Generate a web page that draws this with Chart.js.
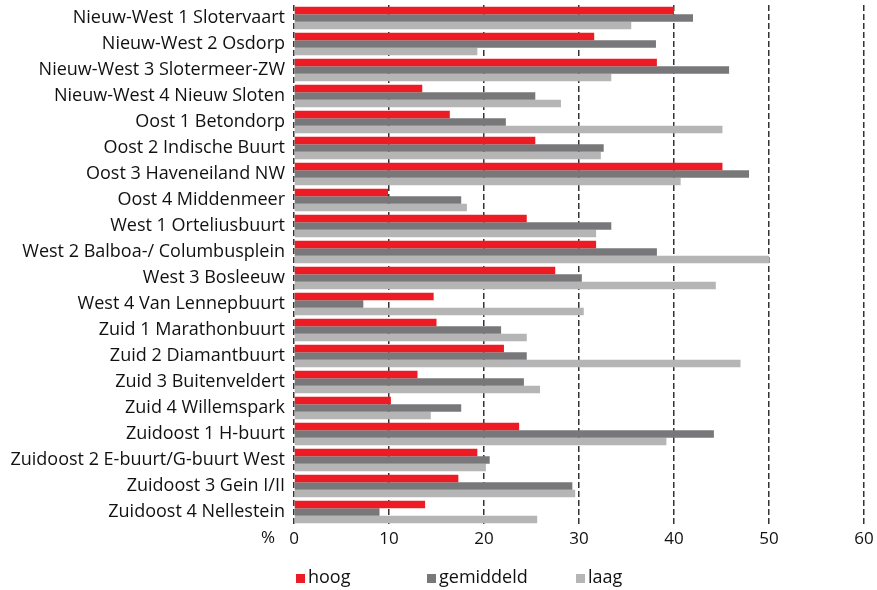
<!DOCTYPE html>
<html>
<head>
<meta charset="utf-8">
<script src="https://cdn.jsdelivr.net/npm/chart.js@4.4.1/dist/chart.umd.min.js"></script>
<style>
  body { margin: 0; background: #fff; }
  #wrap { position: relative; width: 877px; height: 590px; font-family: 'Open Sans', sans-serif; color: #111; }
  #pct { position: absolute; left: 261px; top: 525px; font-size: 17px; }
  .leg { position: absolute; top: 564px; font-size: 18px; }
  .leg span { display: inline-block; width: 9px; height: 9px; margin-right: 3px; }
</style>
</head>
<body>
<div id="wrap">
  <canvas id="myChart" width="877" height="590"></canvas>
  <div id="pct">%</div>
  <div class="leg" style="left:296px"><span style="background:#ed1c24"></span>hoog</div>
  <div class="leg" style="left:427px"><span style="background:#78787a"></span>gemiddeld</div>
  <div class="leg" style="left:576px"><span style="background:#b5b5b5"></span>laag</div>
</div>
<script>
'use strict';

let wijken = [
  'Nieuw-West 1 Slotervaart', 'Nieuw-West 2 Osdorp', 'Nieuw-West 3 Slotermeer-ZW', 'Nieuw-West 4 Nieuw Sloten',
  'Oost 1 Betondorp', 'Oost 2 Indische Buurt', 'Oost 3 Haveneiland NW', 'Oost 4 Middenmeer',
  'West 1 Orteliusbuurt', 'West 2 Balboa-/ Columbusplein', 'West 3 Bosleeuw', 'West 4 Van Lennepbuurt',
  'Zuid 1 Marathonbuurt', 'Zuid 2 Diamantbuurt', 'Zuid 3 Buitenveldert', 'Zuid 4 Willemspark',
  'Zuidoost 1 H-buurt', 'Zuidoost 2 E-buurt/G-buurt West', 'Zuidoost 3 Gein I/II', 'Zuidoost 4 Nellestein'
];
let hoog =      [40.0, 31.6, 38.2, 13.5, 16.4, 25.4, 45.1,  9.9, 24.5, 31.8, 27.5, 14.7, 15.0, 22.1, 13.0, 10.2, 23.7, 19.3, 17.3, 13.8];
let gemiddeld = [42.0, 38.1, 45.8, 25.4, 22.3, 32.6, 47.9, 17.6, 33.4, 38.2, 30.3,  7.3, 21.8, 24.5, 24.2, 17.6, 44.2, 20.6, 29.3,  9.0];
let laag =      [35.5, 19.3, 33.4, 28.1, 45.1, 32.3, 40.7, 18.2, 31.8, 50.0, 44.4, 30.5, 24.5, 47.0, 25.9, 14.4, 39.2, 20.2, 29.6, 25.6];
let xTicks = [0, 10, 20, 30, 40, 50, 60];

const ctx = document.getElementById('myChart');

new Chart(ctx, {
  type: 'bar',
  data: {
    labels: wijken,
    datasets: [
      { label: 'hoog', data: hoog, backgroundColor: '#ed1c24' },
      { label: 'gemiddeld', data: gemiddeld, backgroundColor: '#78787a' },
      { label: 'laag', data: laag, backgroundColor: '#b5b5b5' }
    ]
  },
  options: {
    indexAxis: 'y',
    responsive: false,
    animation: false,
    layout: { padding: { top: 5, right: 13, bottom: 0, left: 0 } },
    datasets: { bar: { categoryPercentage: 0.87, barPercentage: 1 } },
    plugins: { legend: { display: false }, tooltip: { enabled: false } },
    scales: {
      x: {
        min: 0,
        max: 60,
        afterBuildTicks: (scale) => { scale.ticks = xTicks.map(v => ({ value: v })); },
        afterFit: (scale) => { scale.height = 65; scale.paddingLeft = 0; scale.paddingRight = 0; },
        grid: { color: '#333', lineWidth: 1.5, drawTicks: false },
        border: { display: false, dash: [6, 3] },
        ticks: { color: '#111', font: { family: 'Open Sans', size: 17 }, padding: 4 }
      },
      y: {
        afterFit: (scale) => { scale.width = 294; scale.paddingTop = 0; scale.paddingBottom = 0; },
        grid: { display: false, drawTicks: false },
        border: { display: false },
        ticks: { color: '#111', font: { family: 'Open Sans', size: 18 }, padding: 9, autoSkip: false }
      }
    }
  }
});
</script>
</body>
</html>
